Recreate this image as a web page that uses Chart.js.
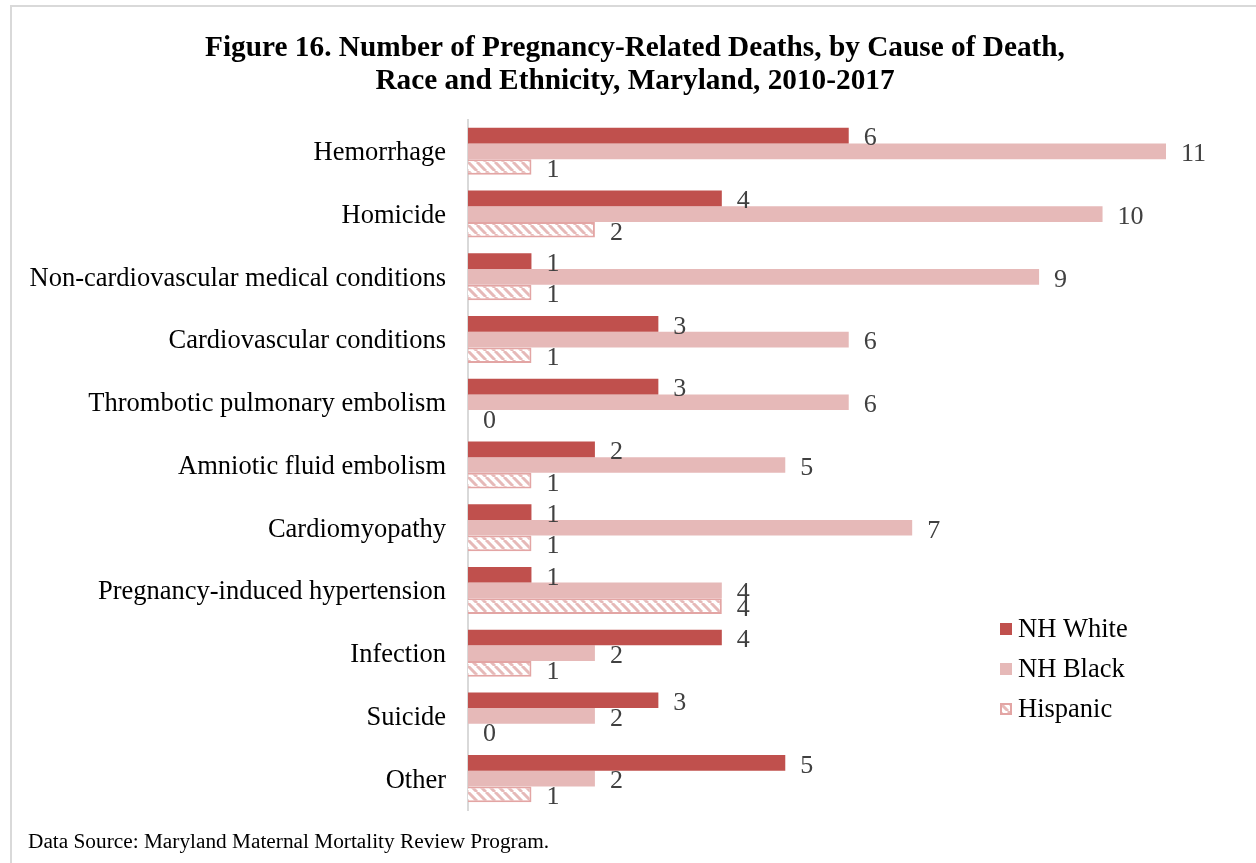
<!DOCTYPE html>
<html>
<head>
<meta charset="utf-8">
<script src="https://cdn.jsdelivr.net/npm/chart.js@4/dist/chart.umd.min.js"></script>
<style>
  html, body { margin: 0; padding: 0; background: #fff; }
  #wrap { position: relative; width: 1256px; height: 863px; overflow: hidden; }
  #frame { position: absolute; left: 10px; top: 5px; width: 1300px; height: 900px;
           border-top: 2px solid #D9D9D9; border-left: 2px solid #D9D9D9; box-sizing: border-box; }
  #c { position: absolute; left: 0; top: 0; }
  #src { position: absolute; left: 28px; top: 828px; font-family: "Liberation Serif", "Times New Roman", serif;
         font-size: 21.3px; line-height: 26px; color: #000; white-space: nowrap; }
</style>
</head>
<body>
<div id="wrap">
  <div id="frame"></div>
  <canvas id="c" width="1256" height="863"></canvas>
  <div id="src">Data Source: Maryland Maternal Mortality Review Program.</div>
</div>
<script>
const categories = [
  "Hemorrhage",
  "Homicide",
  "Non-cardiovascular medical conditions",
  "Cardiovascular conditions",
  "Thrombotic pulmonary embolism",
  "Amniotic fluid embolism",
  "Cardiomyopathy",
  "Pregnancy-induced hypertension",
  "Infection",
  "Suicide",
  "Other"
];
const seriesNames = ["NH White", "NH Black", "Hispanic"];
const nhWhite  = [6, 4, 1, 3, 3, 2, 1, 1, 4, 3, 5];
const nhBlack  = [11, 10, 9, 6, 6, 5, 7, 4, 2, 2, 2];
const hispanic = [1, 2, 1, 1, 0, 1, 1, 4, 1, 0, 1];
const titleLines = [
  "Figure 16. Number of Pregnancy-Related Deaths, by Cause of Death,",
  "Race and Ethnicity, Maryland, 2010-2017"
];

const SERIF = '"Liberation Serif", "Times New Roman", serif';
const COL_WHITE = '#C0504D';
const COL_BLACK = '#E6B9B8';
const COL_HISP = '#E3A5A4';

function makeHatch() {
  const s = 9;
  const cv = document.createElement('canvas');
  cv.width = s; cv.height = s;
  const g = cv.getContext('2d');
  g.fillStyle = '#fff';
  g.fillRect(0, 0, s, s);
  g.strokeStyle = COL_BLACK;
  g.lineWidth = 3;
  g.beginPath();
  for (let k = -1; k <= 1; k++) {
    g.moveTo(k * s, 0);
    g.lineTo(k * s + s, s);
  }
  g.stroke();
  return g.createPattern(cv, 'repeat');
}
const hatch = makeHatch();

const titleShift = {
  id: 'titleShift',
  afterLayout(chart) {
    const tb = chart.titleBlock;
    if (tb) { tb.left = 14; tb.right = 1256; tb.width = tb.right - tb.left; }
  }
};

const valueLabels = {
  id: 'valueLabels',
  afterDatasetsDraw(chart) {
    const ctx = chart.ctx;
    ctx.save();
    ctx.font = '26px ' + SERIF;
    ctx.fillStyle = '#404040';
    ctx.textAlign = 'left';
    ctx.textBaseline = 'middle';
    chart.data.datasets.forEach((ds, i) => {
      const meta = chart.getDatasetMeta(i);
      meta.data.forEach((el, j) => {
        ctx.fillText(String(ds.data[j]), el.x + 15, el.y + 3);
      });
    });
    ctx.restore();
  }
};

const customLegend = {
  id: 'customLegend',
  afterDraw(chart) {
    const ctx = chart.ctx;
    ctx.save();
    ctx.font = '26.5px ' + SERIF;
    ctx.textBaseline = 'middle';
    ctx.textAlign = 'left';
    const x0 = 1000, y0 = 629, dy = 40, box = 12;
    chart.data.datasets.forEach((ds, i) => {
      const y = y0 + i * dy;
      if (i === 2) {
        ctx.fillStyle = hatch;
        ctx.fillRect(x0, y - box / 2, box, box);
        ctx.strokeStyle = COL_HISP;
        ctx.lineWidth = 2;
        ctx.strokeRect(x0 + 1, y - box / 2 + 1, box - 2, box - 2);
      } else {
        ctx.fillStyle = ds.backgroundColor;
        ctx.fillRect(x0, y - box / 2, box, box);
      }
      ctx.fillStyle = '#000';
      ctx.fillText(ds.label, x0 + 18, y + 1);
    });
    ctx.restore();
  }
};

new Chart(document.getElementById('c'), {
  type: 'bar',
  data: {
    labels: categories,
    datasets: [
      { label: seriesNames[0], data: nhWhite, backgroundColor: COL_WHITE, borderWidth: 0 },
      { label: seriesNames[1], data: nhBlack, backgroundColor: COL_BLACK, borderWidth: 0 },
      { label: seriesNames[2], data: hispanic, backgroundColor: hatch, borderColor: COL_HISP, borderWidth: 2 }
    ]
  },
  options: {
    indexAxis: 'y',
    responsive: false,
    animation: false,
    devicePixelRatio: 1,
    layout: { padding: { left: 0, right: 90, top: 0, bottom: 53 } },
    datasets: { bar: { categoryPercentage: 0.75, barPercentage: 1.0 } },
    scales: {
      x: { display: false, min: 0, max: 11 },
      y: {
        grid: { display: false, drawTicks: false },
        border: { display: true, color: '#D9D9D9', width: 2 },
        ticks: { color: '#000', font: { family: SERIF, size: 26.5 }, padding: 22, labelOffset: 2 },
        afterFit(scale) { scale.width = 468; }
      }
    },
    plugins: {
      legend: { display: false },
      tooltip: { enabled: false },
      title: {
        display: true,
        text: titleLines,
        color: '#000',
        font: { family: SERIF, size: 29.3, weight: 'bold', lineHeight: 1.126 },
        padding: { top: 32, bottom: 22 }
      }
    }
  },
  plugins: [titleShift, valueLabels, customLegend]
});
</script>
</body>
</html>
